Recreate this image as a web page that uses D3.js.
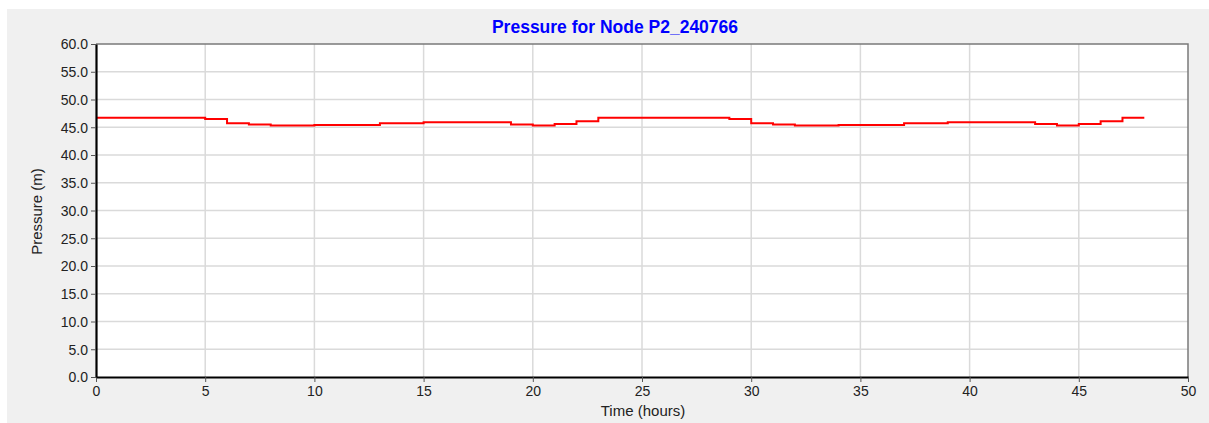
<!DOCTYPE html>
<html>
<head>
<meta charset="utf-8">
<script src="https://cdn.jsdelivr.net/npm/d3@7"></script>
<style>
  html, body { margin: 0; padding: 0; background: #ffffff; }
  svg { display: block; }
  text { font-family: "Liberation Sans", Arial, sans-serif; }
</style>
</head>
<body>
<svg id="chart" width="1209" height="423"></svg>
<script>
// Hourly pressure at node P2_240766 (value holds until the next hour)
const hours = [0,1,2,3,4,5,6,7,8,9,10,11,12,13,14,15,16,17,18,19,20,21,22,23,24,
               25,26,27,28,29,30,31,32,33,34,35,36,37,38,39,40,41,42,43,44,45,46,47,48];
const pressure = [46.7,46.7,46.7,46.7,46.7,46.5,45.7,45.5,45.3,45.3,45.4,45.4,45.4,45.7,45.7,
                  45.9,45.9,45.9,45.9,45.5,45.3,45.6,46.1,46.7,46.7,
                  46.7,46.7,46.7,46.7,46.5,45.7,45.5,45.3,45.3,45.4,45.4,45.4,45.7,45.7,
                  45.9,45.9,45.9,45.9,45.6,45.3,45.6,46.1,46.7,46.7];
const xTicks = [0,5,10,15,20,25,30,35,40,45,50];
const yTicks = [0,5,10,15,20,25,30,35,40,45,50,55,60];

const chartTitle = "Pressure for Node P2_240766";
const xTitle = "Time (hours)";
const yTitle = "Pressure (m)";

const svg = d3.select("#chart");
const W = 1209, H = 423;
const plot = { left: 96, right: 1188, top: 44, bottom: 377 };

// Panel background
svg.append("rect").attr("x", 7).attr("y", 9).attr("width", W - 7).attr("height", H - 9)
  .attr("fill", "#f0f0f0");

const x = d3.scaleLinear().domain([0, 50]).range([plot.left, plot.right]);
const y = d3.scaleLinear().domain([0, 60]).range([plot.bottom, plot.top]);

// Plot area
svg.append("rect")
  .attr("x", plot.left).attr("y", plot.top)
  .attr("width", plot.right - plot.left).attr("height", plot.bottom - plot.top)
  .attr("fill", "#ffffff");

// Grid
const grid = svg.append("g").attr("stroke", "#dadada").attr("stroke-width", 1.5);
grid.selectAll("line.v").data(xTicks.filter(t => t > 0 && t < 50)).enter().append("line")
  .attr("x1", d => x(d)).attr("x2", d => x(d))
  .attr("y1", plot.top).attr("y2", plot.bottom);
grid.selectAll("line.h").data(yTicks.filter(t => t > 0 && t < 60)).enter().append("line")
  .attr("x1", plot.left).attr("x2", plot.right)
  .attr("y1", d => y(d)).attr("y2", d => y(d));

// Frame: gray top/right edges
svg.append("path")
  .attr("d", `M${plot.left},${plot.top}H${plot.right}V${plot.bottom}`)
  .attr("fill", "none").attr("stroke", "#7a7a7a").attr("stroke-width", 1.5);

// Pressure series
const data = hours.map((h, i) => ({ h, v: pressure[i] }));
svg.append("path")
  .datum(data)
  .attr("fill", "none")
  .attr("stroke", "#ff0000")
  .attr("stroke-width", 2)
  .attr("d", d3.line().x(d => x(d.h)).y(d => y(d.v)).curve(d3.curveStepAfter));

// Axes
const xAxis = svg.append("g").attr("transform", `translate(0,${plot.bottom})`)
  .call(d3.axisBottom(x).tickValues(xTicks).tickFormat(d3.format("d")).tickSize(5).tickSizeOuter(0));
const yAxis = svg.append("g").attr("transform", `translate(${plot.left},0)`)
  .call(d3.axisLeft(y).tickValues(yTicks).tickFormat(d3.format(".1f")).tickSize(5).tickSizeOuter(0));

[xAxis, yAxis].forEach(a => {
  a.select(".domain").attr("stroke", "#000").attr("stroke-width", 2.2);
  a.selectAll(".tick line").attr("stroke", "#555");
  a.selectAll(".tick text").attr("fill", "#222").attr("font-size", 14)
    .attr("font-family", "'Liberation Sans', Arial, sans-serif");
});
xAxis.selectAll(".tick text").attr("dy", "0.95em").attr("y", 6);
yAxis.selectAll(".tick text").attr("x", -8).attr("dy", "0.35em");

// Titles
svg.append("text").attr("x", 615).attr("y", 33).attr("text-anchor", "middle")
  .attr("font-size", 17.5).attr("font-weight", "bold").attr("fill", "#0000ff")
  .text(chartTitle);
svg.append("text").attr("x", 643).attr("y", 416).attr("text-anchor", "middle")
  .attr("font-size", 15).attr("fill", "#222").text(xTitle);
svg.append("text")
  .attr("transform", `translate(42,${(plot.top + plot.bottom) / 2 + 1}) rotate(-90)`)
  .attr("text-anchor", "middle").attr("font-size", 15).attr("fill", "#222").text(yTitle);
</script>
</body>
</html>
